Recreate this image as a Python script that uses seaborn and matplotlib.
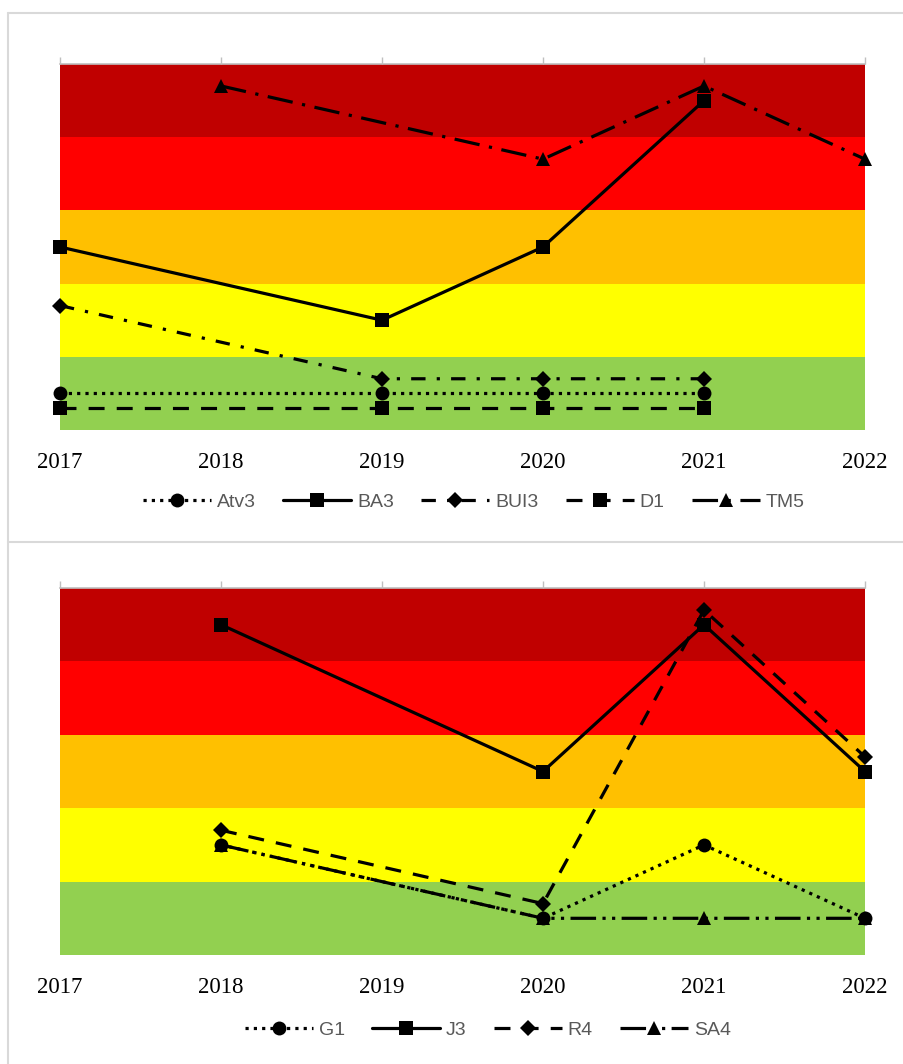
import numpy as np
import pandas as pd
import matplotlib.pyplot as plt
from matplotlib.lines import Line2D
import seaborn as sns

years = [2017, 2018, 2019, 2020, 2021, 2022]
year_labels = ['2017', '2018', '2019', '2020', '2021', '2022']

# top panel
atv3 = [0.5, np.nan, 0.5, 0.5, 0.5, np.nan]
ba3 = [2.5, np.nan, 1.5, 2.5, 4.5, np.nan]
bui3 = [1.7, np.nan, 0.7, 0.7, 0.7, np.nan]
d1 = [0.3, np.nan, 0.3, 0.3, 0.3, np.nan]
tm5 = [np.nan, 4.7, np.nan, 3.7, 4.7, 3.7]

# bottom panel
g1 = [np.nan, 1.5, np.nan, 0.5, 1.5, 0.5]
j3 = [np.nan, 4.5, np.nan, 2.5, 4.5, 2.5]
r4 = [np.nan, 1.7, np.nan, 0.7, 4.7, 2.7]
sa4 = [np.nan, 1.5, np.nan, 0.5, 0.5, 0.5]

band_colors = ['#92D050', '#FFFF00', '#FFC000', '#FF0000', '#C00000']

dotted = (0, (1, 1.6))
dashed = (0, (5, 3.8))
dashdot = (0, (4.5, 3.5, 1, 3.5))
longdashdot = (0, (8, 3, 1, 3))
dashdotdot = (0, (8, 2, 1, 2, 1, 2))

top_series = [
    ('Atv3', atv3, 'o', dotted),
    ('BA3', ba3, 's', '-'),
    ('BUI3', bui3, 'D', dashdot),
    ('D1', d1, 's', dashed),
    ('TM5', tm5, '^', longdashdot),
]
bottom_series = [
    ('G1', g1, 'o', dotted),
    ('J3', j3, 's', '-'),
    ('R4', r4, 'D', dashed),
    ('SA4', sa4, '^', dashdotdot),
]

sns.set_style('white')
plt.rcParams['font.family'] = ['Liberation Serif', 'DejaVu Serif']

fig = plt.figure(figsize=(9.04, 10.64), dpi=100)

msize = {'o': 10, 's': 10.5, 'D': 8.5, '^': 10.5}


def draw_panel(ax, series):
    for i, c in enumerate(band_colors):
        ax.axhspan(i, i + 1, color=c, lw=0, zorder=0)
    for name, vals, m, ls in series:
        df = pd.DataFrame({'year': years, 'val': vals}).dropna()
        sns.lineplot(data=df, x='year', y='val', ax=ax, color='black', lw=2.3,
                     linestyle=ls, marker=m, markersize=msize[m], markeredgewidth=0,
                     clip_on=False, zorder=3)
    ax.set_xlim(2017, 2022)
    ax.set_ylim(0, 5)
    ax.set_xlabel('')
    ax.set_ylabel('')
    ax.set_yticks([])
    ax.set_xticks(years)
    ax.set_xticklabels(year_labels, fontsize=16.5, color='black')
    for s in ['left', 'right', 'bottom']:
        ax.spines[s].set_visible(False)
    ax.spines['top'].set_color('#BFBFBF')
    ax.spines['top'].set_linewidth(1.2)
    ax.tick_params(axis='x', which='both', top=True, bottom=False, direction='out',
                   length=5, width=1, color='#BFBFBF', pad=11)
    ax.xaxis.set_ticks_position('top')
    ax.tick_params(axis='x', labeltop=False, labelbottom=True)
    handles = [Line2D([0], [0], color='black', lw=2.3, linestyle=ls, marker=m,
                      markersize=msize[m], markeredgewidth=0)
               for name, vals, m, ls in series]
    labels = [s[0] for s in series]
    return handles, labels


leg_kw = dict(loc='center', frameon=False, handlelength=3.5, columnspacing=1.4,
              handletextpad=0.3, prop={'family': 'Liberation Sans', 'size': 14},
              labelcolor='#595959')

ax1 = fig.add_axes([60 / 904, 1 - 430 / 1064, 805 / 904, 366 / 1064])
h1, l1 = draw_panel(ax1, top_series)
fig.legend(h1, l1, bbox_to_anchor=(474 / 904, 1 - 502 / 1064), ncol=5, **leg_kw)

ax2 = fig.add_axes([60 / 904, 1 - 955 / 1064, 805 / 904, 367 / 1064])
h2, l2 = draw_panel(ax2, bottom_series)
fig.legend(h2, l2, bbox_to_anchor=(488 / 904, 1 - 1030 / 1064), ncol=4, **leg_kw)

# chart frames
frame = dict(color='#D9D9D9', lw=1.5, transform=fig.transFigure, zorder=0)
fig.add_artist(Line2D([8 / 904, 1], [1 - 13 / 1064, 1 - 13 / 1064], **frame))
fig.add_artist(Line2D([8 / 904, 8 / 904], [1 - 13 / 1064, 0], **frame))
fig.add_artist(Line2D([8 / 904, 1], [1 - 542 / 1064, 1 - 542 / 1064], **frame))

fig.savefig('out.png', dpi=100, facecolor='white')
